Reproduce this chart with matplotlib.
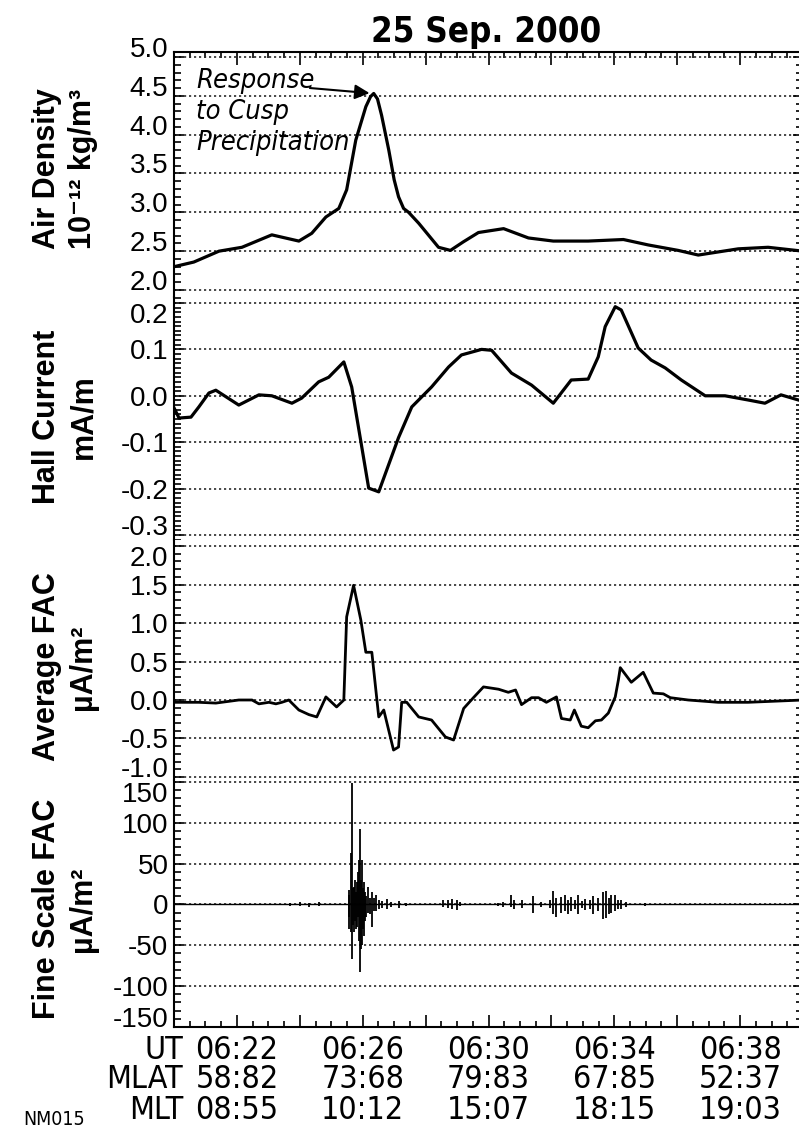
import matplotlib
matplotlib.use('Agg')
import matplotlib.pyplot as plt
import matplotlib.transforms as mtransforms
from matplotlib.ticker import MultipleLocator, FormatStrFormatter
import numpy as np

plt.rcParams['axes.unicode_minus'] = False

COND = dict(family='DejaVu Sans', fontstretch='condensed')
SANS = ['Liberation Sans', 'DejaVu Sans']

# time axis: minutes after 06:00 UT
air_t = [20.00, 20.63, 21.43, 22.16, 23.11, 23.97, 24.38, 24.83, 25.24, 25.49, 25.78,
         26.10, 26.25, 26.35, 26.47, 26.60, 26.83, 27.00, 27.14, 27.30, 27.46, 27.78,
         28.41, 28.79, 29.20, 29.68, 30.48, 31.27, 32.06, 33.17, 34.29, 35.08, 36.03,
         36.67, 37.94, 38.89, 40.00]
air_v = [2.30, 2.36, 2.50, 2.55, 2.71, 2.63, 2.73, 2.94, 3.05, 3.29, 3.93,
         4.36, 4.49, 4.53, 4.46, 4.25, 3.80, 3.42, 3.20, 3.05, 3.00, 2.86,
         2.55, 2.51, 2.62, 2.74, 2.79, 2.67, 2.63, 2.63, 2.65, 2.58, 2.51,
         2.45, 2.53, 2.55, 2.50]

hall_t = [20.00, 20.16, 20.54, 20.79, 21.11, 21.33, 22.06, 22.70, 23.11, 23.75, 24.06,
          24.60, 24.92, 25.40, 25.65, 26.19, 26.51, 27.14, 27.56, 28.19, 28.73, 29.14,
          29.78, 30.10, 30.73, 31.37, 32.06, 32.63, 33.17, 33.49, 33.71, 34.03, 34.22,
          34.76, 35.17, 35.62, 36.13, 36.89, 37.52, 38.25, 38.79, 39.30, 40.00]
hall_v = [-0.026, -0.048, -0.046, -0.024, 0.006, 0.012, -0.020, 0.002, 0.000, -0.016, -0.005,
          0.030, 0.040, 0.073, 0.019, -0.199, -0.207, -0.090, -0.024, 0.019, 0.062, 0.088,
          0.100, 0.098, 0.049, 0.023, -0.016, 0.034, 0.036, 0.084, 0.149, 0.192, 0.185,
          0.103, 0.077, 0.060, 0.034, 0.000, 0.000, -0.009, -0.016, 0.002, -0.012]

fac_t = [20.00, 20.79, 21.33, 22.06, 22.48, 22.70, 23.02, 23.24, 23.43, 23.65,
         23.97, 24.29, 24.54, 24.83, 25.17, 25.40, 25.49, 25.71, 25.94, 26.10,
         26.29, 26.51, 26.67, 26.98, 27.14, 27.24, 27.40, 27.78, 28.19, 28.63,
         28.89, 29.21, 29.52, 29.84, 30.32, 30.63, 30.86, 31.05, 31.37, 31.59,
         31.84, 32.16, 32.32, 32.60, 32.73, 32.95, 33.17, 33.40, 33.59, 33.81,
         34.03, 34.13, 34.19, 34.54, 34.92, 35.24, 35.56, 35.78, 36.35, 37.30,
         38.25, 40.00]
fac_v = [-0.03, -0.03, -0.04, 0.00, 0.00, -0.05, -0.03, -0.05, -0.03, 0.00,
         -0.13, -0.19, -0.22, 0.04, -0.09, 0.00, 1.08, 1.49, 1.04, 0.62,
         0.62, -0.22, -0.13, -0.65, -0.61, -0.03, -0.03, -0.22, -0.26, -0.48,
         -0.52, -0.11, 0.03, 0.17, 0.14, 0.10, 0.13, -0.06, 0.03, 0.03,
         -0.03, 0.04, -0.24, -0.26, -0.13, -0.34, -0.36, -0.27, -0.26, -0.17,
         0.04, 0.26, 0.42, 0.23, 0.36, 0.09, 0.08, 0.03, 0.00, -0.03,
         -0.03, 0.00]

# fine scale FAC: upper / lower excursion of each burst sample
fine_t = [20.00, 23.50, 23.70, 24.00, 24.30, 24.60, 24.70, 25.50, 25.56, 25.58,
          25.62, 25.65, 25.68, 25.71, 25.75, 25.78, 25.81, 25.84, 25.87, 25.90,
          25.94, 25.97, 26.00, 26.03, 26.08, 26.12, 26.16, 26.22, 26.29, 26.35,
          26.41, 26.51, 26.60, 26.76, 26.90, 27.14, 27.37, 27.60, 28.55, 28.70,
          28.85, 29.00, 29.10, 30.30, 30.45, 30.73, 30.80, 31.05, 31.43, 31.68,
          31.97, 32.06, 32.16, 32.29, 32.44, 32.54, 32.63, 32.76, 32.86, 32.98,
          33.08, 33.24, 33.33, 33.49, 33.65, 33.75, 33.84, 33.90, 34.03, 34.13,
          34.22, 34.38, 34.60, 34.98, 35.08, 40.00]
fine_hi = [0, 0, 2, 3, 2, 3, 0, 0, 12, 18,
           63, 149, 20, 22, 30, 15, 27, 40, 55, 93,
           30, 55, 20, 27, 15, 10, 22, 8, 15, 8,
           12, 6, 4, 7, 3, 4, 2, 0, 5, 6,
           7, 5, 3, 2, 3, 12, 6, 5, 10, 3,
           5, 16, 8, 9, 11, 6, 9, 5, 11, 4,
           7, 5, 10, 8, 15, 16, 8, 12, 11, 5,
           6, 3, 1, 2, 0, 0]
fine_lo = [0, 0, -2, -2, -3, -2, 0, 0, -15, -30,
           -34, -67, -25, -34, -20, -30, -27, -15, -45, -83,
           -55, -49, -30, -39, -20, -15, -10, -12, -28, -8,
           -8, -6, -4, -5, -3, -4, -2, 0, -3, -4,
           -5, -7, -2, -2, -3, -3, -5, -4, -10, -3,
           -4, -12, -15, -10, -8, -12, -8, -6, -12, -4,
           -7, -5, -12, -8, -18, -17, -12, -10, -8, -6,
           -6, -3, -1, -2, 0, 0]

ut_ticks = [22, 26, 30, 34, 38]
ut_labels = ['06:22', '06:26', '06:30', '06:34', '06:38']
mlat_labels = ['58:82', '73:68', '79:83', '67:85', '52:37']
mlt_labels = ['08:55', '10:12', '15:07', '18:15', '19:03']

W, H = 799, 1131
fig = plt.figure(figsize=(W / 100, H / 100), dpi=100)

left, right = 174, 803
edges = [52, 297, 540, 780, 1027]
ylims = [(1.910, 5.064), (-0.3108, 0.2129), (-1.039, 2.078), (-150, 152.4)]
tick_ranges = [(2.0, 5.0, 0.5), (-0.3, 0.2, 0.1), (-1.0, 2.0, 0.5), (-150, 150, 50)]
minor_steps = [0.1, 0.01, 0.1, 10]
fmts = ['%.1f', '%.1f', '%.1f', '%d']
ylabels = ['Air Density\n10\u207b\u00b9\u00b2 kg/m\u00b3', 'Hall Current\nmA/m',
           'Average FAC\n\u00b5A/m\u00b2', 'Fine Scale FAC\n\u00b5A/m\u00b2']
label_centers = [169, 417, 667, 909]

axes = []
for i in range(4):
    top, bot = edges[i], edges[i + 1]
    ax = fig.add_axes([left / W, 1 - bot / H, (right - left) / W, (bot - top) / H])
    ax.set_xlim(20, 40)
    ax.set_ylim(*ylims[i])
    lo, hi, step = tick_ranges[i]
    ax.set_yticks(np.arange(lo, hi + step / 2, step))
    ax.yaxis.set_major_formatter(FormatStrFormatter(fmts[i]))
    ax.yaxis.set_minor_locator(MultipleLocator(minor_steps[i]))
    ax.xaxis.set_major_locator(MultipleLocator(2))
    ax.xaxis.set_minor_locator(MultipleLocator(0.5))
    ax.grid(axis='y', which='major', linestyle=(0, (1.3, 1.7)), color='#2a2a2a', lw=1.2)
    ax.tick_params(axis='y', which='both', direction='in', left=True, right=True,
                   width=1.2, labelsize=20, pad=4)
    ax.tick_params(axis='y', which='major', length=7)
    ax.tick_params(axis='y', which='minor', length=5)
    ax.tick_params(axis='x', which='both', direction='in', bottom=(i == 3), top=(i == 0),
                   labelbottom=False, width=1.2)
    ax.tick_params(axis='x', which='major', length=9)
    ax.tick_params(axis='x', which='minor', length=4)
    for lab in ax.get_yticklabels():
        lab.set_family(SANS)
    for side in ['left', 'right', 'top', 'bottom']:
        ax.spines[side].set_linewidth(1.5)
    ax.spines['top'].set_visible(i == 0)
    ax.spines['bottom'].set_visible(i == 3)
    fig.text(65 / W, 1 - label_centers[i] / H, ylabels[i], rotation=90, ha='center',
             va='center', multialignment='center', fontsize=22, fontweight='bold',
             family=SANS, linespacing=1.25)
    axes.append(ax)

ax_air, ax_hall, ax_fac, ax_fine = axes

# tick label vertical placement as in the original
for lab in ax_air.get_yticklabels():
    lab.set_va('baseline')
for ax in (ax_hall, ax_fac, ax_fine):
    ax.get_yticklabels()[0].set_va('baseline')
    ax.get_yticklabels()[-1].set_va('top')

ax_air.plot(air_t, air_v, color='black', lw=2.3, solid_joinstyle='round')
ax_hall.plot(hall_t, hall_v, color='black', lw=2.3, solid_joinstyle='round')
ax_fac.plot(fac_t, fac_v, color='black', lw=2.0, solid_joinstyle='round')
ax_fine.plot(fine_t, np.zeros(len(fine_t)), color='black', lw=1.0)
ax_fine.vlines(fine_t, fine_lo, fine_hi, color='black', lw=1.3)

# annotation on the density peak
ipk = int(np.argmax(air_v))
ax_air.text(0.035, 0.935, 'Response\nto Cusp\nPrecipitation', transform=ax_air.transAxes,
            ha='left', va='top', fontsize=19.5, style='italic', linespacing=1.25, **COND)
ax_air.annotate('', xy=(air_t[ipk], air_v[ipk]), xytext=(0.216, 0.853),
                textcoords='axes fraction',
                arrowprops=dict(arrowstyle='-|>', color='black', lw=1.5,
                                mutation_scale=22, shrinkA=0, shrinkB=3))

# bottom axis labels: UT / MLAT / MLT
trans = mtransforms.blended_transform_factory(ax_fine.transData, fig.transFigure)
rows = [ut_labels, mlat_labels, mlt_labels]
row_names = ['UT', 'MLAT', 'MLT']
row_base = [1059, 1088, 1119]
for names, yb, rname in zip(rows, row_base, row_names):
    for t, s in zip(ut_ticks, names):
        fig.text(t, 1 - yb / H, s, transform=trans, ha='center', va='baseline',
                 fontsize=23, **COND)
    fig.text(183 / W, 1 - yb / H, rname, ha='right', va='baseline', fontsize=23, **COND)

fig.text(486 / W, 1 - 42 / H, '25 Sep. 2000', ha='center', va='baseline', fontsize=25,
         fontweight='bold', **COND)
fig.text(23 / W, 1 - 1125 / H, 'NM015', ha='left', va='baseline', fontsize=14, **COND)

fig.savefig('out.png', dpi=100)
